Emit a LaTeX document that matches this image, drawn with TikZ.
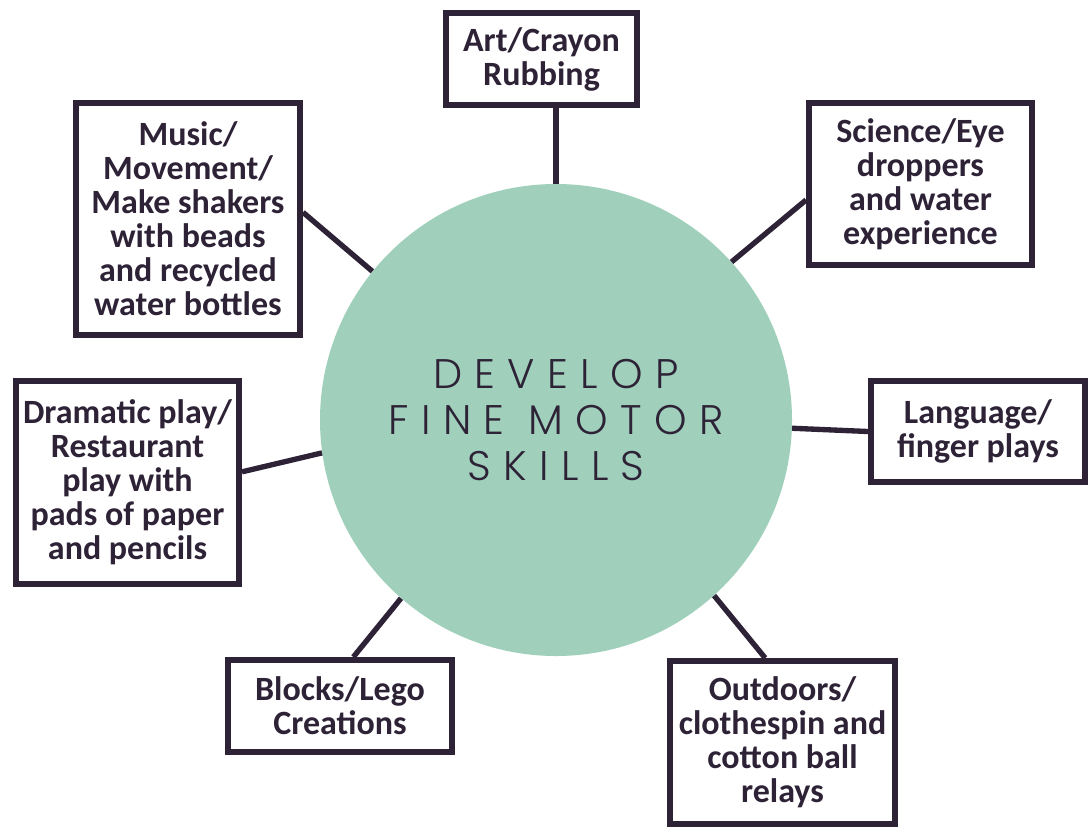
\documentclass[tikz,border=0pt]{standalone}
\usepackage{fontspec}
\setmainfont{Carlito}
\newfontfamily\ctrfont{Poppins Light}[LetterSpace=30]
\definecolor{ink}{HTML}{2D2236}
\definecolor{teal}{HTML}{A0D0BC}
\tikzset{
  topic/.style={draw=ink, line width=4.5pt, fill=white, align=center, inner sep=0pt,
    font=\bfseries\fontsize{25.5}{25.5}\selectfont, text=ink},
  link/.style={draw=ink, line width=4pt},
  hub/.style={circle, fill=teal, minimum size=354pt, inner sep=0pt, align=center,
    font=\ctrfont\fontsize{31}{34.5}\selectfont, text=ink}
}
\begin{document}
\begin{tikzpicture}[x=0.75pt,y=-0.75pt]
\useasboundingbox (0,0) rectangle (1091,829);
\node[hub] (c) at (556,420) {DEVELOP\\FINE MOTOR\\SKILLS};
\node[topic, minimum width=143.25pt, minimum height=69pt] (art) at (541.5,59) {Art/Crayon\\Rubbing};
\node[topic, minimum width=168pt, minimum height=174pt] (music) at (188,219) {Music/\\Movement/\\Make shakers\\with beads\\and recycled\\water bottles};
\node[topic, minimum width=167.25pt, minimum height=121.5pt] (sci) at (920.5,184) {Science/Eye\\droppers\\and water\\experience};
\node[topic, minimum width=160.5pt, minimum height=75.75pt] (lang) at (978,431.5) {Language/\\finger plays};
\node[topic, minimum width=167.25pt, minimum height=152.25pt] (drama) at (127.5,482.5) {Dramatic play/\\Restaurant\\play with\\pads of paper\\and pencils};
\node[topic, minimum width=168pt, minimum height=69pt] (blocks) at (340,706) {Blocks/Lego\\Creations};
\node[topic, minimum width=168.75pt, minimum height=122.25pt] (out) at (782.5,742.5) {Outdoors/\\clothespin and\\cotton ball\\relays};
\draw[link] (art.south -| c.north) -- (c.north);
\draw[link] ([yshift=5pt]music.east) -- (c.141);
\draw[link] ([yshift=-12pt]sci.west) -- (c.42);
\draw[link] (lang.west) -- (c.-2);
\draw[link] ([yshift=8pt]drama.east) -- (c.188);
\draw[link] ([xshift=10pt]blocks.north) -- (c.229);
\draw[link] ([xshift=-13pt]out.north) -- (c.-48);
\end{tikzpicture}
\end{document}
